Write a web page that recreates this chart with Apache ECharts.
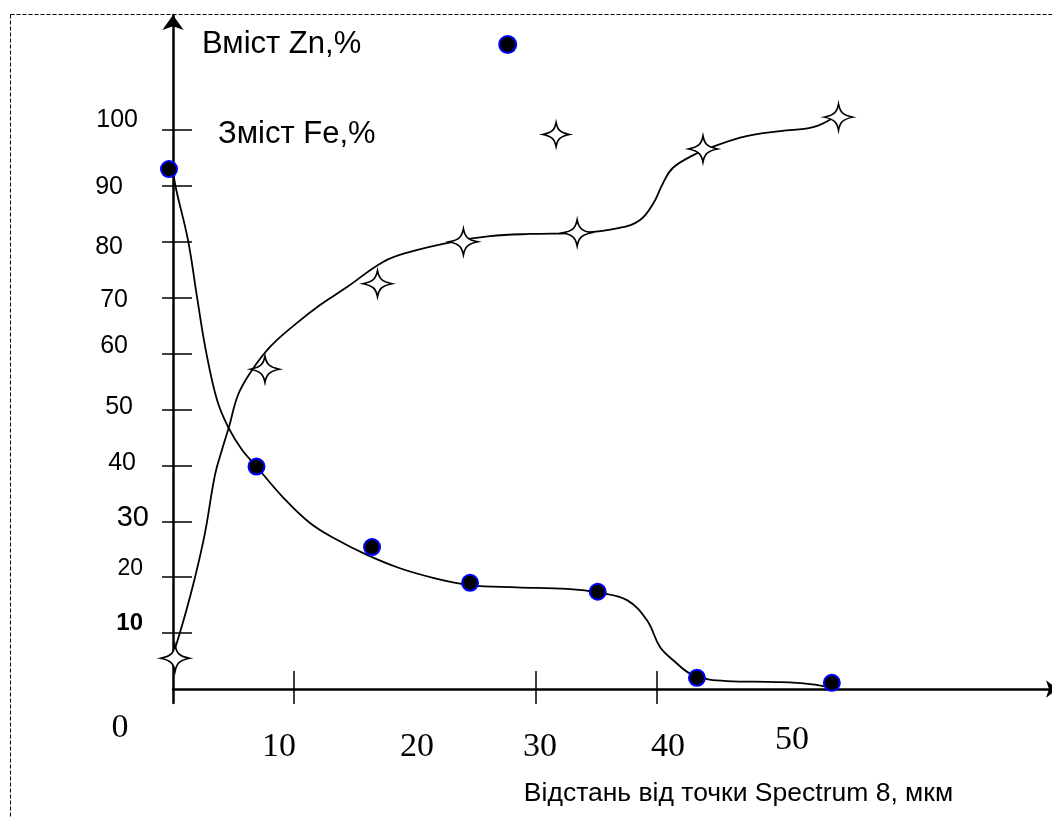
<!DOCTYPE html>
<html>
<head>
<meta charset="utf-8">
<script src="https://cdn.jsdelivr.net/npm/echarts@6/dist/echarts.min.js"></script>
<style>
  html, body { margin: 0; padding: 0; background: #fff; }
  #chart { width: 1052px; height: 818px; }
</style>
</head>
<body>
<div id="chart"></div>
<script>
// measured points (distance, %)
const znDist = [-0.33, 6.9, 16.45, 24.55, 35.1, 43.3, 54.45]
const znValue = [93.0, 39.8, 25.4, 19.0, 17.4, 2.0, 1.1]
const feDist = [0.17, 7.6, 16.9, 24.0, 33.4, 43.8, 55.0]
const feValue = [5.5, 57.2, 72.5, 80.0, 81.6, 96.6, 102.3]

// hand drawn trend curves
const znCurveX = [0.0, 0.25, 1.24, 1.98, 2.73, 3.64, 4.55, 5.7, 6.86, 9.09, 11.32, 13.55, 16.03, 18.76, 21.49, 24.55, 28.43, 32.56, 35.29, 37.52, 39.17, 40.25, 41.32, 42.98, 45.79, 49.92, 52.64, 54.55]
const znCurveY = [92.8, 89.5, 80.3, 70.2, 60.4, 51.7, 46.9, 42.8, 39.9, 34.3, 29.7, 26.7, 24.0, 21.6, 19.9, 18.6, 18.2, 17.9, 17.2, 15.9, 12.3, 7.5, 5.2, 2.5, 1.43, 1.25, 0.89, 0.18]
const feCurveX = [0.08, 0.99, 1.82, 2.64, 3.47, 4.05, 4.63, 5.37, 6.36, 8.02, 10.25, 12.15, 14.38, 17.36, 19.59, 23.14, 26.2, 29.5, 33.6, 36.9, 38.6, 39.7, 40.5, 41.3, 43.0, 44.6, 47.4, 50.2, 52.9, 54.5]
const feCurveY = [6.6, 13.2, 20.0, 27.9, 38.3, 42.8, 46.9, 52.6, 56.5, 61.2, 65.5, 68.7, 71.9, 76.4, 78.2, 80.0, 81.0, 81.4, 81.6, 82.5, 83.9, 86.9, 90.5, 93.2, 95.5, 97.0, 98.9, 99.8, 100.5, 102.1]

const yTicks = [10, 20, 30, 40, 50, 60, 70, 80, 90, 100]
const xTicks = [10, 30, 40]
const xLabels = [0, 10, 20, 30, 40, 50]

const znName = 'Вміст Zn,%'
const feName = 'Зміст Fe,%'

// label look: every label sits a bit differently in the source
const yLabelStyle = {
  100: { fontSize: 25, padding: [0, 12, 20, 0] },
  90: { fontSize: 25, padding: [2, 27, 0, 0] },
  80: { fontSize: 25, padding: [10, 27, 0, 0] },
  70: { fontSize: 25, padding: [4, 22, 0, 0] },
  60: { fontSize: 25, padding: [0, 22, 14, 0] },
  50: { fontSize: 25, padding: [0, 17, 4, 0] },
  40: { fontSize: 25, padding: [0, 14, 4, 0] },
  30: { fontSize: 29, padding: [0, 1, 6, 0] },
  20: { fontSize: 23, padding: [0, 7, 18, 0] },
  10: { fontSize: 24, fontWeight: 'bold', padding: [0, 7, 20, 0] }
}
const xLabelStyle = {
  0: { padding: [0, 106, 0, 0] },
  10: { padding: [38, 30, 0, 0] },
  20: { padding: [38, 0, 0, 4] },
  30: { padding: [38, 0, 0, 8] },
  40: { padding: [38, 0, 0, 22] },
  50: { padding: [24, 0, 0, 28] }
}

const starPath = 'path://M15,0 C16.6,8 19,11.3 30,13.5 C19,15.7 16.6,19 15,27 C13.4,19 11,15.7 0,13.5 C11,11.3 13.4,8 15,0 Z'

function pairs (xs, ys) {
  return xs.map((x, i) => [x, ys[i]])
}

const yRich = {}
Object.keys(yLabelStyle).forEach(k => {
  yRich['y' + k] = Object.assign({ fontFamily: 'Liberation Sans', color: '#000' }, yLabelStyle[k])
})
const xRich = {}
Object.keys(xLabelStyle).forEach(k => {
  xRich['x' + k] = Object.assign({ fontFamily: 'Liberation Serif', fontSize: 34, lineHeight: 34, color: '#000' }, xLabelStyle[k])
})

const chart = echarts.init(document.getElementById('chart'), null, { renderer: 'canvas' })

const option = {
  animation: false,
  backgroundColor: '#fff',
  grid: { left: 173, right: -6, top: 15, bottom: 115, outerBoundsMode: 'none' },
  graphic: [
    {
      type: 'rect',
      shape: { x: 10.5, y: 14.5, width: 1100, height: 900 },
      style: { fill: 'none', stroke: '#000', lineWidth: 1, lineDash: [4, 2] },
      silent: true,
      z: -1
    }
  ],
  legend: [
    {
      left: 197,
      top: 24,
      align: 'right',
      data: [{ name: znName, icon: 'circle' }],
      itemWidth: 17,
      itemHeight: 17,
      textStyle: { fontFamily: 'Liberation Sans', fontSize: 31, color: '#000', padding: [0, 133, 0, 0] }
    },
    {
      left: 213,
      top: 114,
      align: 'right',
      data: [{ name: feName, icon: starPath }],
      itemWidth: 27,
      itemHeight: 24,
      itemStyle: { color: '#fff', borderColor: '#000', borderWidth: 1.6 },
      textStyle: { fontFamily: 'Liberation Sans', fontSize: 31, color: '#000', padding: [0, 162, 0, 0] }
    }
  ],
  xAxis: [
    {
      type: 'value',
      min: 0,
      max: 73.14,
      name: 'Відстань від точки Spectrum 8, мкм',
      nameLocation: 'middle',
      nameGap: 77,
      nameTextStyle: { fontFamily: 'Liberation Sans', fontSize: 26.5, color: '#000', padding: [0, 0, 0, 246] },
      axisLine: { onZero: true, symbol: ['none', 'arrow'], symbolSize: [13, 12], lineStyle: { color: '#000', width: 2.5 } },
      axisTick: { show: true, inside: false, length: 15, customValues: xTicks, lineStyle: { color: '#000', width: 1.5 } },
      axisLabel: {
        margin: 8,
        customValues: xLabels,
        formatter: v => `{x${v}|${v}}`,
        rich: xRich
      },
      splitLine: { show: false }
    },
    {
      type: 'value',
      min: 0,
      max: 73.14,
      position: 'bottom',
      axisLine: { show: false, onZero: true },
      axisTick: { show: true, inside: true, length: 18, customValues: xTicks, lineStyle: { color: '#000', width: 1.5 } },
      axisLabel: { show: false },
      splitLine: { show: false }
    }
  ],
  yAxis: [
    {
      type: 'value',
      min: -2.5,
      max: 120.57,
      axisLine: { show: true, onZero: false, symbol: ['none', 'arrow'], symbolSize: [16, 15], lineStyle: { color: '#000', width: 2.5 } },
      axisTick: { show: true, inside: false, length: 11, customValues: yTicks, lineStyle: { color: '#000', width: 1.5 } },
      axisLabel: {
        margin: 23,
        customValues: yTicks,
        formatter: v => `{y${v}|${v}}`,
        rich: yRich
      },
      splitLine: { show: false }
    },
    {
      type: 'value',
      min: -2.5,
      max: 120.57,
      position: 'left',
      axisLine: { show: false, onZero: false },
      axisTick: { show: true, inside: true, length: 19, customValues: yTicks, lineStyle: { color: '#000', width: 1.5 } },
      axisLabel: { show: false },
      splitLine: { show: false }
    }
  ],
  series: [
    {
      name: 'Zn curve',
      type: 'line',
      data: pairs(znCurveX, znCurveY),
      showSymbol: false,
      smooth: 0.4,
      lineStyle: { color: '#000', width: 1.8 },
      z: 2
    },
    {
      name: 'Fe curve',
      type: 'line',
      data: pairs(feCurveX, feCurveY),
      showSymbol: false,
      smooth: 0.4,
      lineStyle: { color: '#000', width: 1.8 },
      z: 2
    },
    {
      name: znName,
      type: 'scatter',
      data: pairs(znDist, znValue),
      symbol: 'circle',
      symbolSize: 16,
      clip: false,
      itemStyle: { color: '#000', borderColor: '#0000ff', borderWidth: 2, opacity: 1 },
      z: 5
    },
    {
      name: feName,
      type: 'scatter',
      data: pairs(feDist, feValue),
      symbol: starPath,
      symbolSize: [29, 26],
      clip: false,
      itemStyle: { color: '#fff', borderColor: '#000', borderWidth: 1.6, opacity: 1 },
      z: 5
    }
  ]
}

chart.setOption(option)
</script>
</body>
</html>
